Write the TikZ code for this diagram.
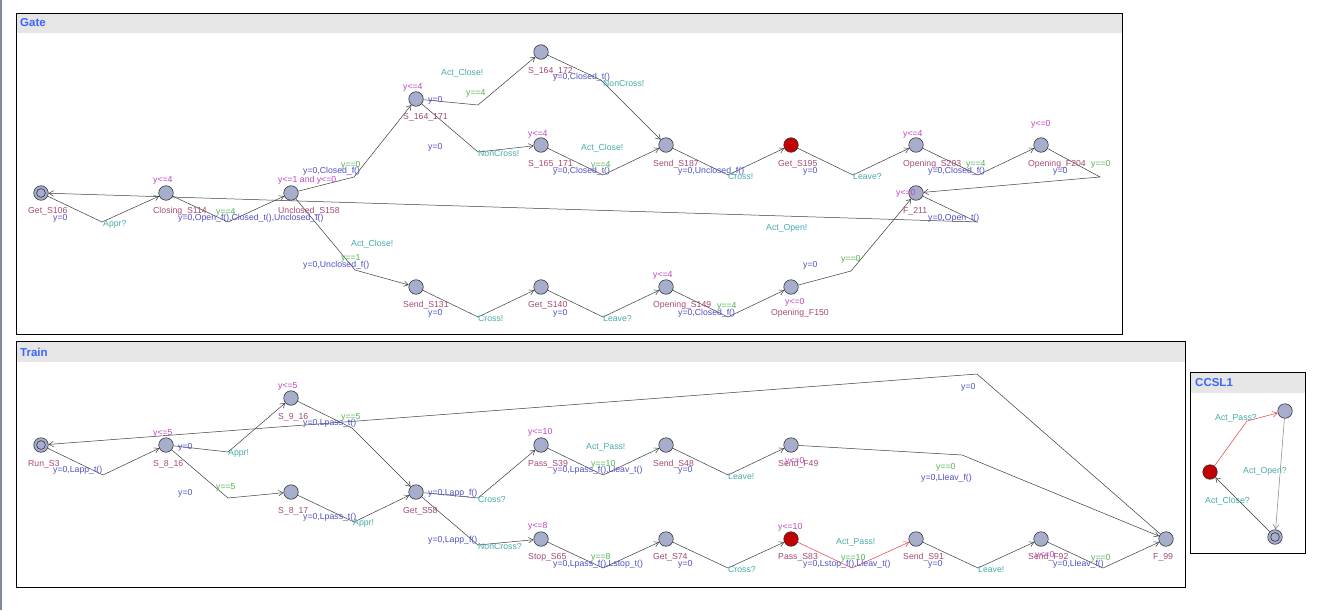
\documentclass[tikz,border=0pt]{standalone}
\usepackage{fontspec}
\setmainfont{Liberation Sans}
\usetikzlibrary{arrows.meta}
\definecolor{locfill}{RGB}{166,174,204}
\definecolor{locline}{RGB}{50,50,60}
\definecolor{locred}{RGB}{195,0,0}
\definecolor{cname}{RGB}{165,75,115}
\definecolor{cinv}{RGB}{190,70,190}
\definecolor{cgrd}{RGB}{80,180,80}
\definecolor{cupd}{RGB}{80,80,200}
\definecolor{csyn}{RGB}{70,170,170}
\definecolor{ctitle}{RGB}{60,100,255}
\definecolor{cedge}{RGB}{60,60,60}
\definecolor{credge}{RGB}{230,60,60}
\definecolor{chead}{RGB}{230,230,230}
\definecolor{cbar}{RGB}{130,138,152}
\pgfdeclarelayer{bg}
\pgfdeclarelayer{edgelayer}
\pgfsetlayers{bg,edgelayer,main}
\newcommand\mylab[4]{\node[#1] (#2) at (#3) {#4};}
\begin{document}
\begin{tikzpicture}[x=1pt,y=-1pt,
  font=\fontsize{8.7}{10}\selectfont,
  loc/.style={circle, draw=locline, fill=locfill, minimum size=14.5pt, inner sep=0pt, line width=0.6pt},
  redloc/.style={loc, fill=locred},
  initloc/.style={loc, path picture={\draw[locline, line width=0.6pt] (path picture bounding box.center) circle[radius=4.4pt];}},
  lbl/.style={anchor=west, inner sep=0pt, text height=6.4pt, text depth=1.6pt},
  nm/.style={lbl, text=cname},
  inv/.style={lbl, text=cinv},
  grd/.style={lbl, text=cgrd},
  upd/.style={lbl, text=cupd},
  syn/.style={lbl, text=csyn},
  edge/.style={draw=cedge, line width=0.5pt, -{Straight Barb[length=4.5pt,width=5.5pt]}},
  redge/.style={edge, draw=credge},
  grayedge/.style={edge, draw=gray},
  panel/.style={draw=black, line width=0.8pt},
  ttl/.style={anchor=west, inner sep=0pt, font=\fontsize{11.5}{12}\selectfont\bfseries, text=ctitle}
]
\useasboundingbox (0,0) rectangle (1337,610);
\begin{pgfonlayer}{bg}
\fill[white] (0,0) rectangle (1337,610);
\fill[cbar] (0,0) rectangle (1.5,610);
% Gate panel
\fill[chead] (16.5,13.5) rectangle (1122,33.3);
\draw[panel] (16.5,13.5) rectangle (1122,334.5);
% Train panel
\fill[chead] (16.5,341.5) rectangle (1185,362);
\draw[panel] (16.5,341.5) rectangle (1185,587.5);
% CCSL1 panel
\fill[chead] (1190.5,372.5) rectangle (1305,393);
\draw[panel] (1190.5,372.5) rectangle (1305,553.5);
\end{pgfonlayer}

\node[ttl] (tG) at (20,23) {Gate};
\node[ttl] (tT) at (20,352) {Train};
\node[ttl] (tC) at (1195,383) {CCSL1};

% ---------------- Gate locations
\node[initloc] (G106) at (41,193) {};
\node[loc] (G114) at (166,193) {};
\node[loc] (G158) at (291,193) {};
\node[loc] (G171) at (416,99) {};
\node[loc] (G172) at (541,52) {};
\node[loc] (G165) at (541,145) {};
\node[loc] (G187) at (666,145) {};
\node[redloc] (G195) at (791,145) {};
\node[loc] (G203) at (916,145) {};
\node[loc] (G204) at (1041,145) {};
\node[loc] (G211) at (916,193) {};
\node[loc] (G131) at (416,287) {};
\node[loc] (G140) at (541,287) {};
\node[loc] (G149) at (666,287) {};
\node[loc] (G150) at (791,287) {};

\begin{pgfonlayer}{edgelayer}
\draw[edge] (G106) -- (102,222) -- (G114);
\draw[edge] (G114) -- (228,222) -- (G158);
\draw[edge] (G158) -- (354,177) -- (G171);
\draw[edge] (G158) -- (355,270) -- (G131);
\draw[edge] (G171) -- (478,105) -- (G172);
\draw[edge] (G171) -- (478,152) -- (G165);
\draw[edge] (G172) -- (601,80) -- (G187);
\draw[edge] (G165) -- (603,175) -- (G187);
\draw[edge] (G187) -- (728,175) -- (G195);
\draw[edge] (G195) -- (853,175) -- (G203);
\draw[edge] (G203) -- (978,175) -- (G204);
\draw[edge] (G204) -- (1100,177) -- (G211);
\draw[edge] (G211) -- (977,222) -- (G106);
\draw[edge] (G131) -- (478,317) -- (G140);
\draw[edge] (G140) -- (603,317) -- (G149);
\draw[edge] (G149) -- (728,317) -- (G150);
\draw[edge] (G150) -- (851,271) -- (G211);
\end{pgfonlayer}

% Gate names
\mylab{nm}{nG106}{28,211}{Get\_S106}
\mylab{nm}{nG114}{153,211}{Closing\_S114}
\mylab{nm}{nG158}{278,211}{Unclosed\_S158}
\mylab{nm}{nG171}{403,117}{S\_164\_171}
\mylab{nm}{nG172}{528,71}{S\_164\_172}
\mylab{nm}{nG165}{528,164}{S\_165\_171}
\mylab{nm}{nG187}{653,164}{Send\_S187}
\mylab{nm}{nG195}{778,164}{Get\_S195}
\mylab{nm}{nG203}{903,164}{Opening\_S203}
\mylab{nm}{nG204}{1028,164}{Opening\_F204}
\mylab{nm}{nG211}{903,211}{F\_211}
\mylab{nm}{nG131}{403,305}{Send\_S131}
\mylab{nm}{nG140}{528,305}{Get\_S140}
\mylab{nm}{nG149}{653,305}{Opening\_S149}
\mylab{nm}{nG150}{771,313}{Opening\_F150}
% Gate invariants
\mylab{inv}{iG114}{153,180}{y<=4}
\mylab{inv}{iG158}{278,180}{y<=1 and y<=0}
\mylab{inv}{iG171}{403,87}{y<=4}
\mylab{inv}{iG165}{528,134}{y<=4}
\mylab{inv}{iG203}{903,134}{y<=4}
\mylab{inv}{iG204}{1031,124}{y<=0}
\mylab{inv}{iG211}{896,193}{y<=0}
\mylab{inv}{iG149}{653,275}{y<=4}
\mylab{inv}{iG150}{785,302}{y<=0}
% Gate edge labels
\mylab{syn}{g1s}{103,224}{Appr?}
\mylab{upd}{g1u}{53,218}{y=0}
\mylab{grd}{g2g}{216,212}{y==4}
\mylab{upd}{g2u}{178,218}{y=0,Open\_f(),Closed\_t(),Unclosed\_t()}
\mylab{grd}{g3g}{341,165}{y==0}
\mylab{upd}{g3u}{303,171}{y=0,Closed\_f()}
\mylab{syn}{g4s}{351,244}{Act\_Close!}
\mylab{grd}{g4g}{341,258}{y==1}
\mylab{upd}{g4u}{303,265}{y=0,Unclosed\_f()}
\mylab{syn}{g5s}{441,73}{Act\_Close!}
\mylab{grd}{g5g}{466,93}{y==4}
\mylab{upd}{g5u}{428,100}{y=0}
\mylab{syn}{g6s}{478,154}{NonCross!}
\mylab{upd}{g6u}{428,147}{y=0}
\mylab{upd}{g7u}{553,77}{y=0,Closed\_t()}
\mylab{syn}{g7s}{603,84}{NonCross!}
\mylab{syn}{g8s}{581,148}{Act\_Close!}
\mylab{grd}{g8g}{591,165}{y==4}
\mylab{upd}{g8u}{553,171}{y=0,Closed\_t()}
\mylab{upd}{g9u}{678,171}{y=0,Unclosed\_f()}
\mylab{syn}{g9s}{728,177}{Cross!}
\mylab{syn}{g10s}{853,177}{Leave?}
\mylab{upd}{g10u}{803,171}{y=0}
\mylab{grd}{g11g}{966,164}{y==4}
\mylab{upd}{g11u}{928,171}{y=0,Closed\_f()}
\mylab{grd}{g12g}{1091,164}{y==0}
\mylab{upd}{g12u}{1053,171}{y=0}
\mylab{upd}{g13u}{928,218}{y=0,Open\_t()}
\mylab{syn}{g13s}{766,228}{Act\_Open!}
\mylab{syn}{g14s}{478,319}{Cross!}
\mylab{upd}{g14u}{428,313}{y=0}
\mylab{syn}{g15s}{603,319}{Leave?}
\mylab{upd}{g15u}{553,313}{y=0}
\mylab{grd}{g16g}{717,306}{y==4}
\mylab{upd}{g16u}{678,313}{y=0,Closed\_f()}
\mylab{grd}{g17g}{841,259}{y==0}
\mylab{upd}{g17u}{803,265}{y=0}

% ---------------- Train locations
\node[initloc] (T3) at (41,445) {};
\node[loc] (T816) at (166,445) {};
\node[loc] (T916) at (291,398) {};
\node[loc] (T817) at (291,492) {};
\node[loc] (T58) at (416,492) {};
\node[loc] (T39) at (541,445) {};
\node[loc] (T48) at (666,445) {};
\node[loc] (T49) at (791,445) {};
\node[loc] (T65) at (541,539) {};
\node[loc] (T74) at (666,539) {};
\node[redloc] (T83) at (791,539) {};
\node[loc] (T91) at (916,539) {};
\node[loc] (T92) at (1041,539) {};
\node[loc] (T99) at (1166,539) {};

\begin{pgfonlayer}{edgelayer}
\draw[edge] (T3) -- (103,475) -- (T816);
\draw[edge] (T816) -- (228,452) -- (T916);
\draw[edge] (T816) -- (228,498) -- (T817);
\draw[edge] (T916) -- (352,428) -- (T58);
\draw[edge] (T817) -- (354,522) -- (T58);
\draw[edge] (T58) -- (478,498) -- (T39);
\draw[edge] (T58) -- (478,545) -- (T65);
\draw[edge] (T39) -- (603,475) -- (T48);
\draw[edge] (T48) -- (728,475) -- (T49);
\draw[edge] (T49) -- (962,455) -- (T99);
\draw[edge] (T65) -- (603,568) -- (T74);
\draw[edge] (T74) -- (728,568) -- (T83);
\draw[redge] (T83) -- (852,568) -- (T91);
\draw[edge] (T91) -- (978,568) -- (T92);
\draw[edge] (T92) -- (1103,568) -- (T99);
\draw[edge] (T99) -- (977,374) -- (T3);
\end{pgfonlayer}

% Train names
\mylab{nm}{nT3}{28,464}{Run\_S3}
\mylab{nm}{nT816}{153,464}{S\_8\_16}
\mylab{nm}{nT916}{278,417}{S\_9\_16}
\mylab{nm}{nT817}{278,511}{S\_8\_17}
\mylab{nm}{nT58}{403,511}{Get\_S58}
\mylab{nm}{nT39}{528,464}{Pass\_S39}
\mylab{nm}{nT48}{653,464}{Send\_S48}
\mylab{nm}{nT49}{778,464}{Send\_F49}
\mylab{nm}{nT65}{528,557}{Stop\_S65}
\mylab{nm}{nT74}{653,557}{Get\_S74}
\mylab{nm}{nT83}{778,557}{Pass\_S83}
\mylab{nm}{nT91}{903,557}{Send\_S91}
\mylab{nm}{nT92}{1028,557}{Send\_F92}
\mylab{nm}{nT99}{1153,557}{F\_99}
% Train invariants
\mylab{inv}{iT816}{153,433}{y<=5}
\mylab{inv}{iT916}{278,386}{y<=5}
\mylab{inv}{iT39}{528,432}{y<=10}
\mylab{inv}{iT49}{785,461}{y<=0}
\mylab{inv}{iT65}{528,526}{y<=8}
\mylab{inv}{iT83}{778,527}{y<=10}
\mylab{inv}{iT92}{1035,555}{y<=0}
% Train edge labels
\mylab{upd}{t1u}{53,470}{y=0,Lapp\_t()}
\mylab{upd}{t2u}{178,447}{y=0}
\mylab{syn}{t2s}{228,453}{Appr!}
\mylab{grd}{t3g}{216,487}{y==5}
\mylab{upd}{t3u}{178,493}{y=0}
\mylab{grd}{t4g}{341,417}{y==5}
\mylab{upd}{t4u}{303,423}{y=0,Lpass\_t()}
\mylab{upd}{t5u}{303,517}{y=0,Lpass\_t()}
\mylab{syn}{t5s}{353,523}{Appr!}
\mylab{upd}{t6u}{428,493}{y=0,Lapp\_f()}
\mylab{syn}{t6s}{478,500}{Cross?}
\mylab{upd}{t7u}{428,540}{y=0,Lapp\_f()}
\mylab{syn}{t7s}{478,547}{NonCross?}
\mylab{syn}{t8s}{586,447}{Act\_Pass!}
\mylab{grd}{t8g}{591,464}{y==10}
\mylab{upd}{t8u}{553,470}{y=0,Lpass\_f(),Lleav\_t()}
\mylab{upd}{t9u}{678,470}{y=0}
\mylab{syn}{t9s}{728,477}{Leave!}
\mylab{grd}{t10g}{936,467}{y==0}
\mylab{upd}{t10u}{921,478}{y=0,Lleav\_f()}
\mylab{grd}{t11g}{591,557}{y==8}
\mylab{upd}{t11u}{553,564}{y=0,Lpass\_f(),Lstop\_t()}
\mylab{upd}{t12u}{678,564}{y=0}
\mylab{syn}{t12s}{728,570}{Cross?}
\mylab{syn}{t13s}{836,542}{Act\_Pass!}
\mylab{grd}{t13g}{841,558}{y==10}
\mylab{upd}{t13u}{803,564}{y=0,Lstop\_f(),Lleav\_t()}
\mylab{upd}{t14u}{928,564}{y=0}
\mylab{syn}{t14s}{978,570}{Leave!}
\mylab{grd}{t15g}{1091,558}{y==0}
\mylab{upd}{t15u}{1053,564}{y=0,Lleav\_f()}
\mylab{upd}{t16u}{961,387}{y=0}

% ---------------- CCSL1
\node[redloc] (C1) at (1210,472) {};
\node[loc] (C2) at (1285,411) {};
\node[initloc] (C3) at (1275,537) {};
\begin{pgfonlayer}{edgelayer}
\draw[redge] (C1) -- (1247,421) -- (C2);
\draw[grayedge] (C2) -- (C3);
\draw[edge] (C3) -- (C1);
\end{pgfonlayer}
\mylab{syn}{c1s}{1215,418}{Act\_Pass?}
\mylab{syn}{c2s}{1243,471}{Act\_Open?}
\mylab{syn}{c3s}{1205,501}{Act\_Close?}
\end{tikzpicture}
\end{document}
